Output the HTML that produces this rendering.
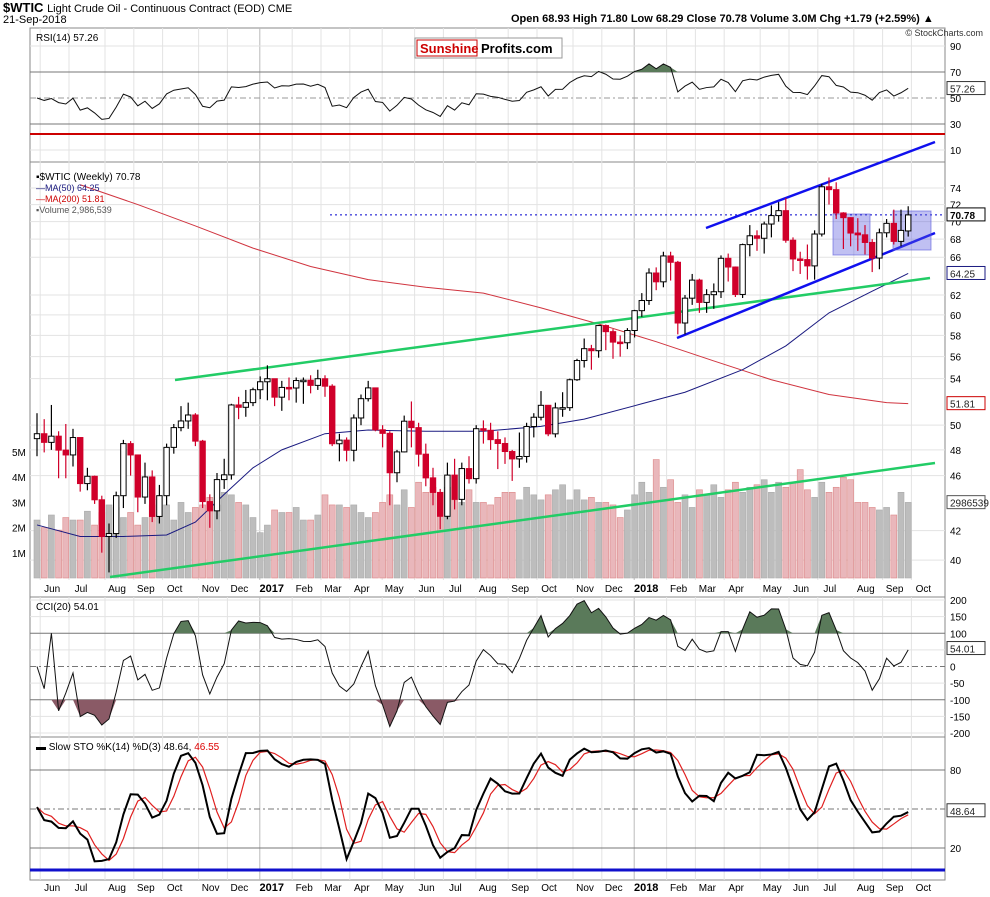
<!DOCTYPE html>
<html><head><meta charset="utf-8"><style>
body{margin:0;background:#fff;}
svg{display:block;font-family:"Liberation Sans",sans-serif;}
</style></head><body>
<svg id="c" width="990" height="897" viewBox="0 0 990 897" xmlns="http://www.w3.org/2000/svg">
<g id="hdr">
<text x="3" y="12" font-size="13" font-weight="bold">$WTIC <tspan font-size="11" font-weight="normal">Light Crude Oil - Continuous Contract (EOD)  CME</tspan></text>
<text x="3" y="23" font-size="11">21-Sep-2018</text>
<text x="511" y="22" font-size="11" font-weight="bold">Open 68.93  High 71.80  Low 68.29  Close 70.78  Volume 3.0M  Chg +1.79 (+2.59%) ▲</text>
</g>
</svg>
<script>
// ---- data ----
const closes=[49.3,48.6,49.1,47.98,47.6,48.99,45.4,45.95,44.2,41.6,41.8,44.5,48.5,47.6,44.4,45.9,43.0,44.5,48.2,49.8,50.35,50.85,48.7,44.07,43.4,45.7,46.06,51.7,51.5,51.9,53.02,53.72,53.99,52.37,53.22,53.17,53.83,53.86,53.4,53.99,53.33,48.49,48.78,47.97,50.6,52.24,53.18,49.62,49.33,46.22,47.84,50.33,49.8,47.66,45.83,44.74,43.01,46.04,44.23,46.54,45.77,49.71,49.58,48.82,48.51,47.87,47.29,47.48,49.89,50.66,51.67,49.29,51.45,51.47,53.9,55.64,56.74,56.55,58.95,58.36,57.36,57.3,58.47,60.42,61.44,64.3,63.37,66.14,65.45,59.2,61.68,63.55,61.25,62.04,62.34,65.88,64.94,62.06,67.39,68.38,68.1,69.72,70.7,71.28,67.88,65.81,65.74,65.06,68.58,74.15,73.8,71.01,70.46,68.69,68.49,67.63,65.91,68.72,69.8,67.75,68.99,70.78];
const opens=[48.9,49.3,48.6,49.1,47.98,47.6,48.99,45.4,45.95,44.2,41.6,41.8,44.5,48.5,47.6,44.4,45.9,43.0,44.5,48.2,49.8,50.35,50.85,48.7,44.07,43.4,45.7,46.06,51.7,51.5,51.9,53.02,53.72,53.99,52.37,53.22,53.17,53.83,53.86,53.4,53.99,53.33,48.49,48.78,47.97,50.6,52.24,53.18,49.62,49.33,46.22,47.84,50.33,49.8,47.66,45.83,44.74,43.01,46.04,44.23,46.54,45.77,49.71,49.58,48.82,48.51,47.87,47.29,47.48,49.89,50.66,51.67,49.29,51.45,51.47,53.9,55.64,56.74,56.55,58.95,58.36,57.36,57.3,58.47,60.42,61.44,64.3,63.37,66.14,65.45,59.2,61.68,63.55,61.25,62.04,62.34,65.88,64.94,62.06,67.39,68.38,68.1,69.72,70.7,71.28,67.88,65.81,65.74,65.06,68.58,74.15,73.8,71.01,70.46,68.69,68.49,67.63,65.91,68.72,69.8,67.75,68.93];
const highs=[51.0,50.5,51.7,49.5,50.1,49.7,49.0,46.6,46.0,44.5,42.5,44.8,48.8,48.7,47.6,47.0,46.4,45.3,48.5,50.1,51.6,51.9,51.0,48.8,44.6,46.2,47.3,51.8,52.4,53.0,53.2,54.2,55.2,54.0,53.8,54.1,54.1,54.1,54.3,54.8,54.3,53.5,49.3,49.0,50.9,52.6,53.8,53.2,50.0,49.5,48.0,50.8,52.0,50.2,48.5,46.6,45.0,47.0,47.3,47.0,47.5,50.0,50.4,50.2,49.5,49.0,48.0,49.4,50.2,51.0,52.9,51.7,51.9,52.8,54.0,55.8,57.7,57.1,59.0,59.05,58.6,58.0,58.7,60.5,62.2,64.8,64.9,66.6,66.6,65.6,62.0,64.2,63.7,62.6,63.2,66.2,66.4,65.0,67.5,69.6,69.0,70.0,71.9,72.3,72.8,68.2,66.6,67.4,69.0,74.5,75.3,74.7,71.1,70.5,70.4,69.6,68.0,69.2,70.3,71.4,71.4,71.8];
const lows=[47.5,47.8,48.0,45.8,45.8,46.7,44.8,44.9,43.9,40.5,39.2,41.5,43.6,46.0,43.3,43.9,42.6,42.5,43.8,47.7,49.5,49.7,48.3,43.6,42.2,42.8,45.0,45.7,50.5,50.7,51.6,52.2,52.1,51.6,51.2,52.1,51.9,51.8,52.7,53.0,52.4,48.3,47.1,47.1,47.1,50.0,52.0,49.5,48.2,43.8,45.5,47.8,48.2,46.7,45.2,43.8,42.1,42.8,43.5,43.8,45.4,45.4,48.5,48.0,46.5,46.9,45.6,46.6,47.0,49.0,50.4,49.1,49.0,50.7,51.2,53.8,55.0,54.8,55.9,56.6,55.8,56.0,56.7,57.8,59.8,61.0,62.5,62.8,63.5,58.1,58.1,61.0,60.2,60.2,60.6,61.7,63.4,61.8,61.7,66.1,66.7,66.4,68.2,70.0,67.6,64.5,64.2,63.6,63.6,68.3,72.0,70.3,66.9,67.2,66.7,66.3,64.4,64.7,68.2,67.4,67.2,68.29];
const volumes=[2.3,2.0,2.5,1.9,2.4,2.3,2.3,2.65,2.1,2.6,2.9,2.8,2.4,2.6,2.1,2.4,2.9,2.5,2.9,2.3,3.0,2.6,2.8,2.9,3.2,2.9,3.4,3.3,3.0,2.9,2.4,1.8,2.1,2.7,2.6,2.6,2.8,2.3,2.3,2.5,3.3,2.9,2.9,2.8,2.9,2.6,2.4,2.6,3.0,3.3,2.9,3.5,2.8,3.8,3.4,3.6,3.3,3.6,3.1,3.0,3.5,3.0,3.0,2.9,3.2,3.4,3.4,3.1,3.6,3.3,3.1,3.3,3.5,3.7,3.1,3.5,3.1,3.2,3.0,3.0,2.9,2.4,2.7,3.3,3.8,3.4,4.7,3.6,3.9,3.0,3.3,2.8,3.5,3.3,3.7,3.2,3.5,3.8,3.4,3.6,3.7,3.9,3.4,3.8,3.6,3.8,4.3,3.5,3.2,3.8,3.4,3.6,4.0,3.9,3.0,3.0,2.8,2.7,2.8,2.5,3.4,3.0];
const ma50Idx=[0,6,12,18,22,26,30,34,40,46,54,62,70,76,84,90,98,104,110,116,121];
const ma50Val=[42.4,41.6,41.6,41.7,42.6,44.6,46.6,48.0,49.3,49.6,49.5,49.5,49.9,50.5,51.8,52.8,54.8,57.0,60.2,62.4,64.25];
const ma200Idx=[6,14,22,30,38,46,54,62,70,78,86,94,102,110,118,121];
const ma200Val=[74.4,72.0,69.5,67.0,65.0,63.6,62.8,62.2,60.7,59.1,57.4,55.6,53.9,52.6,51.9,51.81];
const priceTicks=[74,72,70,68,66,62,60,58,56,54,50,48,46,42,40];
const volTicks=[5,4,3,2,1];
const monthLabels=["Jun","Jul","Aug","Sep","Oct","Nov","Dec","2017","Feb","Mar","Apr","May","Jun","Jul","Aug","Sep","Oct","Nov","Dec","2018","Feb","Mar","Apr","May","Jun","Jul","Aug","Sep","Oct"];
const monthStartIdx=[1,5,10,14,18,23,27,31.5,36,40,44,48.5,53,57,61.5,66,70,75,79,83.5,88,92,96,101,105,109,114,118,122];

// ---- scales ----
const X0=30,X1=945;
const xi=i=>37+i*7.2;
const py=p=>188+605*(Math.log(74)-Math.log(p));
const vy=v=>578-v*25.2;
const ry=v=>46+(90-v)*1.3;
const cy=v=>666.5-v*0.3325;
const sy=v=>874-v*1.3;
const NS="http://www.w3.org/2000/svg";
const svg=document.getElementById('c');
function mk(tag,attrs,parent){const e=document.createElementNS(NS,tag);for(const k in attrs)e.setAttribute(k,attrs[k]);(parent||svg).appendChild(e);return e;}
function txt(x,y,s,attrs,parent){const t=mk('text',Object.assign({x:x,y:y,'font-size':10},attrs||{}),parent);t.textContent=s;return t;}

// ---- indicators computed from data ----
const N=closes.length;
const rsi=[];{let ag=0.75,al=0.75;for(let i=0;i<N;i++){const ch=i? closes[i]-closes[i-1]:0;const g=Math.max(ch,0),l=Math.max(-ch,0);ag=(ag*13+g)/14;al=(al*13+l)/14;rsi.push(al===0?50:100-100/(1+ag/al));}}
const tp=closes.map((c,i)=>(c+highs[i]+lows[i])/3);
const cci=tp.map((t,i)=>{const s=Math.max(0,i-19);const w=tp.slice(s,i+1);const m=w.reduce((a,b)=>a+b,0)/w.length;const d=w.reduce((a,b)=>a+Math.abs(b-m),0)/w.length;return d?((t-m)/(0.015*d)):0;});
const fk=closes.map((c,i)=>{const s=Math.max(0,i-13);const hh=Math.max(...highs.slice(s,i+1)),ll=Math.min(...lows.slice(s,i+1));return hh>ll?100*(c-ll)/(hh-ll):50;});
const sma=(a,n)=>a.map((v,i)=>{const w=a.slice(Math.max(0,i-n+1),i+1);return w.reduce((x,y)=>x+y,0)/w.length;});
const kS=sma(fk,3),dS=sma(kS,3);

// ---- panels ----
const panels=[["rsi-panel",28,162],["price-panel",162,597],["cci-panel",597,737],["sto-panel",737,880]];
panels.forEach(p=>{const r=mk('rect',{x:X0,y:p[1],width:X1-X0,height:p[2]-p[1],fill:'#fff',stroke:'#888','stroke-width':1});

});

// vertical grid
monthStartIdx.forEach((m,k)=>{const x=xi(m)-4;const yr=monthLabels[k].length===4;
[[28,162],[162,580],[597,737],[737,880]].forEach(r=>{const l=mk('line',{x1:x,x2:x,y1:r[0],y2:r[1],stroke:yr?'#bbb':'#e3e3e3','stroke-width':1});

});
const t1=txt(x+12,592,monthLabels[k],{'font-size':yr?11:10,'font-weight':yr?'bold':'normal','text-anchor':'middle'});


const t2=txt(x+12,891,monthLabels[k],{'font-size':yr?11:10,'font-weight':yr?'bold':'normal','text-anchor':'middle'});

});

// ---- RSI panel ----
[90,70,50,30,10].forEach(v=>{const l=mk('line',{x1:X0,x2:X1,y1:ry(v),y2:ry(v),stroke:v===70||v===30?'#777':'#e3e3e3','stroke-dasharray':v===50?'6,3,2,3':'none'});
if(v===50)l.setAttribute('stroke','#999');


const t=txt(950,ry(v)+4,String(v),{'font-size':10});

});
const redL=mk('line',{x1:X0,x2:X1,y1:134,y2:134,stroke:'#cc0000','stroke-width':2});


let rp=rsi.map((v,i)=>xi(i)+','+ry(v)).join(' ');
const rsiFill=mk('polygon',{points:rsi.map((v,i)=>xi(i)+','+ry(Math.max(v,70))).join(' ')+' '+xi(N-1)+','+ry(70)+' '+xi(0)+','+ry(70),fill:'#5a7a5a'});


const rsiLine=mk('polyline',{points:rp,fill:'none',stroke:'#111','stroke-width':1});


const rl=txt(36,41,'RSI(14) 57.26',{'font-size':10});


const cr=txt(983,36,'© StockCharts.com',{'font-size':9,'text-anchor':'end',fill:'#333'});


// logo
const logo=mk('g',{});


mk('rect',{x:415,y:38,width:147,height:20,fill:'#fff',stroke:'#999'},logo);
mk('rect',{x:417,y:40,width:60,height:16,fill:'#fff',stroke:'#c00'},logo);
txt(420,53,'Sunshine',{'font-size':13,'font-weight':'bold',fill:'#c00'},logo);
txt(481,53,'Profits.com',{'font-size':13,'font-weight':'bold',fill:'#000'},logo);

// ---- price panel ----
priceTicks.forEach(v=>{const l=mk('line',{x1:X0,x2:X1,y1:py(v),y2:py(v),stroke:'#e3e3e3'});


const t=txt(950,py(v)+4,String(v),{'font-size':10});

});
volTicks.forEach(v=>{const t=txt(12,vy(v)+4,v+'M',{'font-size':10});

});
volumes.forEach((v,i)=>{const dn=closes[i]<opens[i];const b=mk('rect',{x:xi(i)-3,y:vy(v),width:6,height:578-vy(v),fill:dn?'#e9b7bb':'#bdbdbd',stroke:dn?'#d88':'#aaa','stroke-width':0.6});

});
const dl=mk('line',{x1:330,x2:X1,y1:py(70.78),y2:py(70.78),stroke:'#0000cc','stroke-dasharray':'2,3'});


const poly=(idx,val,name,col,w)=>{const p=mk('polyline',{points:idx.map((ix,k)=>xi(ix)+','+py(val[k])).join(' '),fill:'none',stroke:col,'stroke-width':w});

};
poly(ma200Idx,ma200Val,'ma200-line','#d0343f',1);
poly(ma50Idx,ma50Val,'ma50-line','#1a1a80',1);
// trend lines & boxes
const tl=(x1,y1,x2,y2,c,n)=>{const l=mk('line',{x1:x1,y1:y1,x2:x2,y2:y2,stroke:c,'stroke-width':2.5});

};
tl(175,380,930,278,'#22cc66','green-trendline-upper');
tl(110,577,935,463,'#22cc66','green-trendline-lower');
tl(706,228,935,142,'#1010ee','channel-upper-line');
tl(677,338,935,233,'#1010ee','channel-lower-line');
[[833,214,37,41],[893,211,38,39]].forEach(b=>{const r=mk('rect',{x:b[0],y:b[1],width:b[2],height:b[3],fill:'rgba(90,90,220,0.38)',stroke:'rgba(90,90,220,0.6)'});

});
// candles
closes.forEach((c,i)=>{const o=opens[i],up=c>=o,x=xi(i),col=up?'#000':'#d0002a';
const w=mk('line',{x1:x,x2:x,y1:py(highs[i]),y2:py(lows[i]),stroke:col,'stroke-width':1.2});


const top=py(Math.max(o,c)),h=Math.max(1.5,py(Math.min(o,c))-top);
const b=mk('rect',{x:x-2.7,y:top,width:5.4,height:h,fill:up?'#fff':'#d0002a',stroke:col,'stroke-width':1});

});
// legend
const lg=mk('g',{});


txt(36,180,'▪$WTIC (Weekly) 70.78',{'font-size':10},lg);
txt(36,191,'—MA(50) 64.25',{'font-size':9,fill:'#1a1a80'},lg);
txt(36,202,'—MA(200) 51.81',{'font-size':9,fill:'#c00'},lg);
txt(36,213,'▪Volume 2,986,539',{'font-size':9,fill:'#555'},lg);

// value tags
const tag=(y,s,c,bold,n)=>{const g=mk('g',{});


mk('rect',{x:947,y:y-7,width:38,height:13,fill:'#fff',stroke:c},g);
txt(950,y+4,s,{'font-size':10,fill:bold?'#000':'#222','font-weight':bold?'bold':'normal'},g);};
tag(ry(57.26),'57.26','#333',false,'rsi-value-tag');
tag(py(70.78),'70.78','#000',true,'close-value-tag');
tag(py(64.25),'64.25','#1a1a80',false,'ma50-value-tag');
tag(py(51.81),'51.81','#c00',false,'ma200-value-tag');
tag(vy(2.99),'2986539','#555',false,'volume-value-tag');
tag(cy(54.01),'54.01','#333',false,'cci-value-tag');
tag(sy(48.64),'48.64','#333',false,'sto-value-tag');

// ---- CCI panel ----
[200,150,100,50,0,-50,-100,-150,-200].forEach(v=>{const l=mk('line',{x1:X0,x2:X1,y1:cy(v),y2:cy(v),stroke:(v===100||v===-100)?'#777':'#e3e3e3','stroke-dasharray':v===0?'6,3,2,3':'none'});
if(v===0)l.setAttribute('stroke','#777');


if(v!==50){const t=txt(950,cy(v)+4,String(v),{'font-size':10});

}});
const cciTop=mk('polygon',{points:cci.map((v,i)=>xi(i)+','+cy(Math.max(v,100))).join(' ')+' '+xi(N-1)+','+cy(100)+' '+xi(0)+','+cy(100),fill:'#5a7a5a'});


const cciBot=mk('polygon',{points:cci.map((v,i)=>xi(i)+','+cy(Math.min(v,-100))).join(' ')+' '+xi(N-1)+','+cy(-100)+' '+xi(0)+','+cy(-100),fill:'#8a5a66'});


const cciLine=mk('polyline',{points:cci.map((v,i)=>xi(i)+','+cy(v)).join(' '),fill:'none',stroke:'#111','stroke-width':1});


const cl=txt(36,610,'CCI(20) 54.01',{'font-size':10});



// ---- STO panel ----
[80,50,20].forEach(v=>{const l=mk('line',{x1:X0,x2:X1,y1:sy(v),y2:sy(v),stroke:'#777','stroke-dasharray':v===50?'6,3,2,3':'none'});


if(v!==50){const t=txt(950,sy(v)+4,String(v),{'font-size':10});

}});
const bl=mk('line',{x1:X0,x2:X1,y1:870,y2:870,stroke:'#1010cc','stroke-width':3});


const dLine=mk('polyline',{points:dS.map((v,i)=>xi(i)+','+sy(v)).join(' '),fill:'none',stroke:'#e02020','stroke-width':1.2});


const kLine=mk('polyline',{points:kS.map((v,i)=>xi(i)+','+sy(v)).join(' '),fill:'none',stroke:'#000','stroke-width':2});


const sl=mk('text',{x:36,y:750,'font-size':10});
sl.innerHTML='▬ Slow STO %K(14) %D(3) 48.64, <tspan fill="#d00">46.55</tspan>';


</script>
</body></html>
